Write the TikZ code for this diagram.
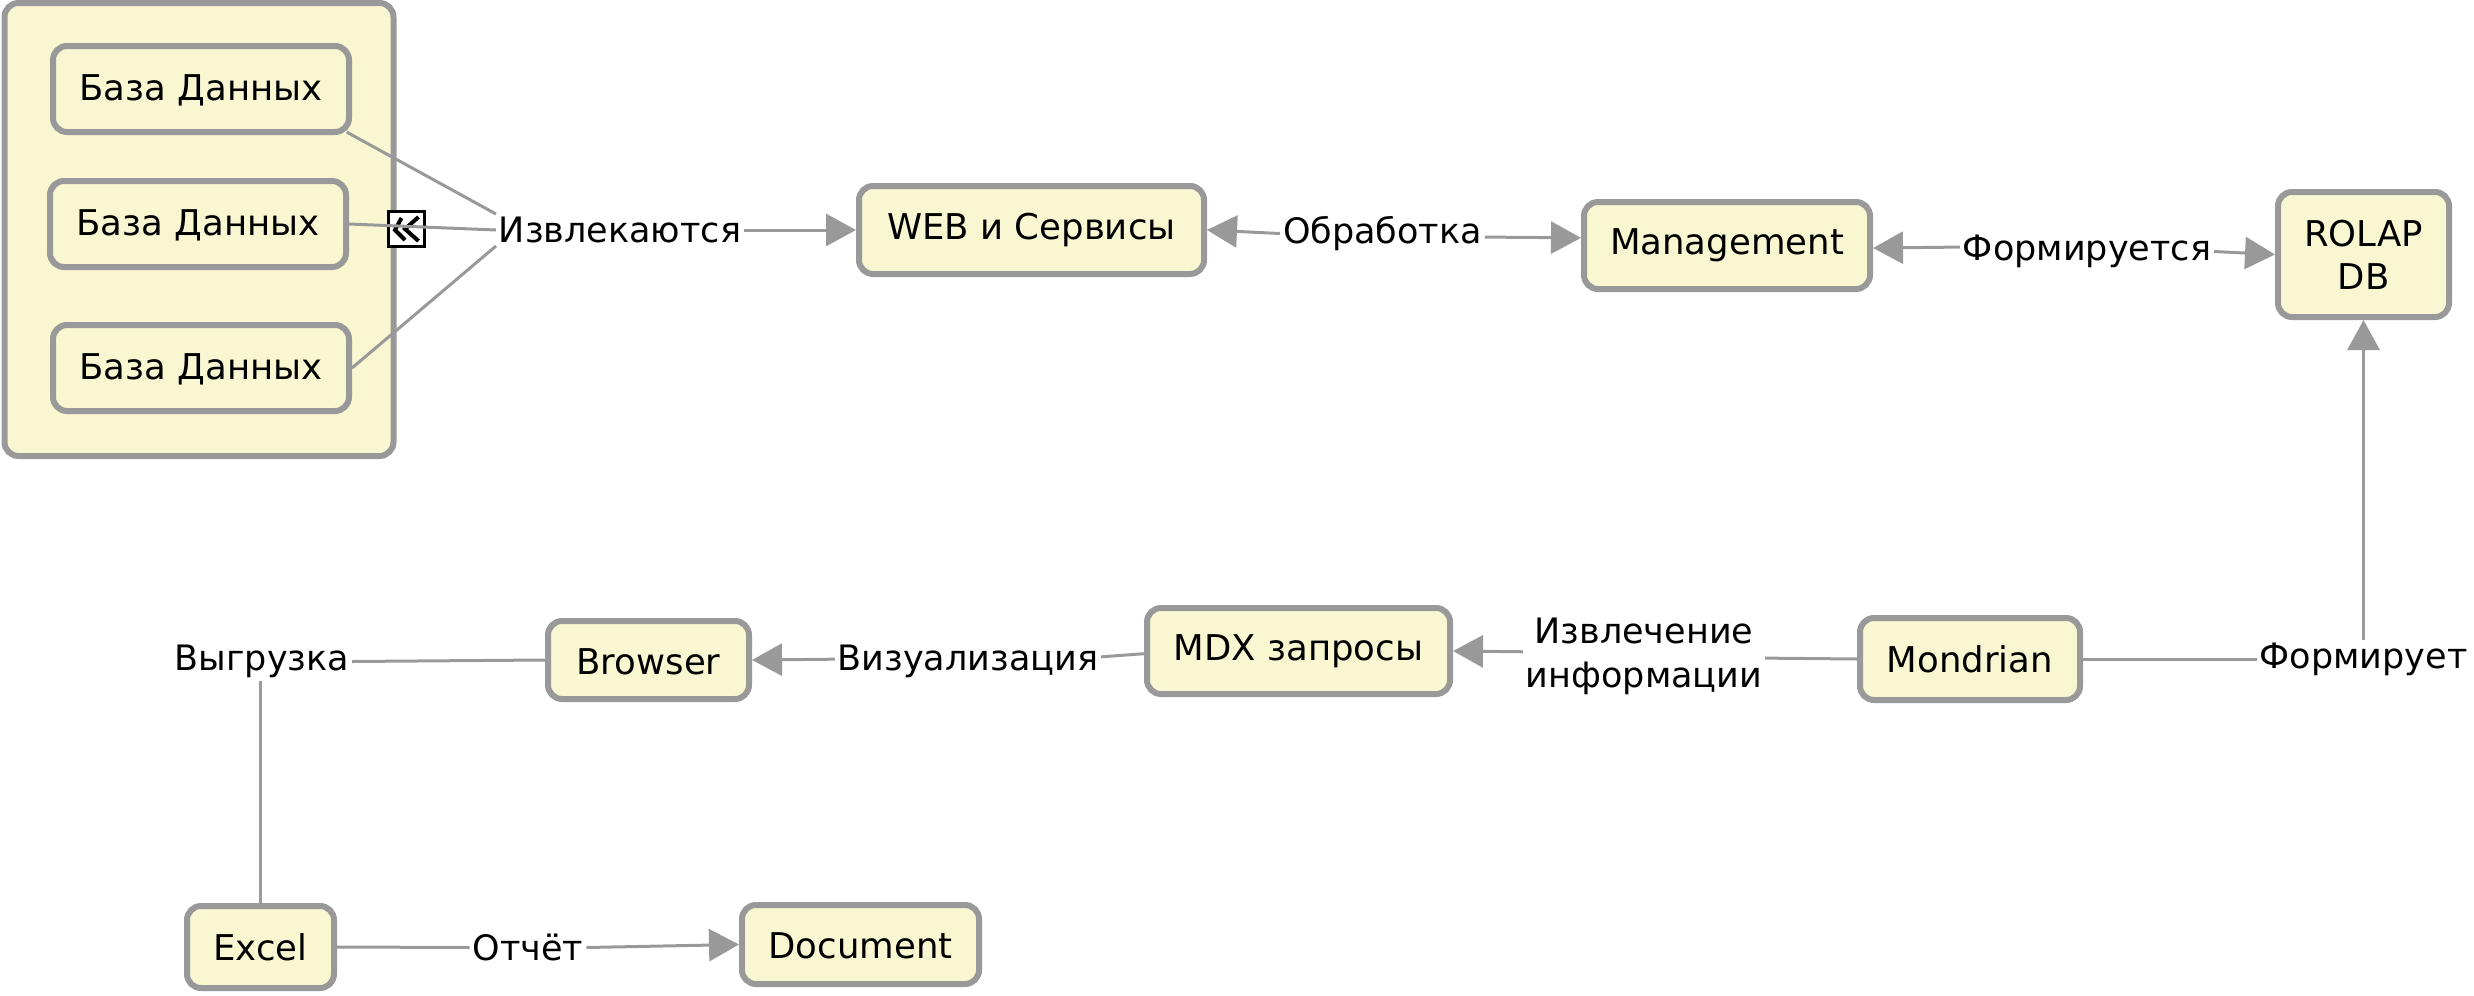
\documentclass[tikz,border=0pt]{standalone}
\usepackage{fontspec}
\setmainfont{DejaVu Sans}
\usetikzlibrary{arrows.meta}
\definecolor{boxfill}{HTML}{F9F7D1}
\definecolor{boxline}{HTML}{999999}
\tikzset{
  boxnode/.style={draw=boxline, fill=boxfill, line width=6pt, rounded corners=14pt,
    align=center, inner sep=0pt, font=\fontsize{35.5}{43}\selectfont},
  dbnode/.style={boxnode, minimum width=296pt, minimum height=86pt, text depth=3pt},
  verbnode/.style={align=center, inner sep=3pt, outer sep=0pt, font=\fontsize{35}{44}\selectfont},
  link/.style={draw=boxline, line width=3pt},
  linkto/.style={link, -{Triangle[length=30pt,width=32pt]}}
}
\begin{document}
\begin{tikzpicture}[x=1pt, y=-1pt]
  \useasboundingbox (0, 0) rectangle (2474, 996);
  % sources
  \node [boxnode, minimum width=389pt, minimum height=453pt] (dbgroup) at (199, 229.5) {};
  \node [dbnode] (dbtop) at (201, 89) {База Данных};
  \node [dbnode] (dbmid) at (198, 224) {База Данных};
  \node [dbnode] (dbbot) at (201, 368) {База Данных};
  \node [draw=black, fill=white, line width=3pt, minimum width=36pt, minimum height=35pt, inner sep=0pt] (collapse) at (406.5, 229) {};
  \draw [black, line width=4pt, shift={(collapse.center)}] (-5, -11) -- (-11.5, 1) -- (-1.5, 11);
  \draw [black, line width=4pt, shift={(collapse.center)}] (12, -12) -- (-1.5, 0) -- (12, 12);
  % top row
  \node [boxnode, minimum width=345pt, minimum height=88pt] (web) at (1031.5, 230) {WEB и Сервисы};
  \node [boxnode, minimum width=286pt, minimum height=87pt] (mgmt) at (1727, 245.5) {Management};
  \node [boxnode, minimum width=171pt, minimum height=125pt] (rolap) at (2363.5, 254.5) {ROLAP\\DB};
  \node [verbnode] (extract) at (620, 230) {Извлекаются};
  \node [verbnode] (process) at (1382.5, 233.5) {Обработка};
  \node [verbnode] (forming) at (2087, 251.5) {Формируется};
  % middle row
  \node [boxnode, minimum width=220pt, minimum height=82pt] (mondrian) at (1970, 659) {Mondrian};
  \node [boxnode, minimum width=303pt, minimum height=86pt] (mdx) at (1298.5, 651) {MDX запросы};
  \node [boxnode, minimum width=201pt, minimum height=78pt, text height=29pt] (browser) at (648.5, 660) {Browser};
  \node [verbnode] (forms) at (2363.5, 659) {Формирует};
  \node [verbnode] (fetch) at (1644, 656) {Извлечение\\информации};
  \node [verbnode] (visual) at (968, 661.5) {Визуализация};
  \node [verbnode] (unload) at (262, 661.5) {Выгрузка};
  % bottom row
  \node [boxnode, minimum width=147pt, minimum height=82pt] (excel) at (260.5, 947) {Excel};
  \node [boxnode, minimum width=237pt, minimum height=79pt, text height=29pt] (document) at (860.5, 944.5) {Document};
  \node [verbnode] (report) at (528, 947.5) {Отчёт};
  % connectors
  \draw [link, shorten <=-6pt] (dbtop.south east) -- (extract.north west);
  \draw [link] (dbmid.east) -- (extract.west);
  \draw [link] (dbbot.east) -- (extract.south west);
  \draw [linkto] (extract.east) -- (web.west);
  \draw [linkto] (process.west) -- (web.east);
  \draw [linkto] (process.-2) -- (mgmt.177.5);
  \draw [linkto] (forming.178.4) -- (mgmt.-1);
  \draw [linkto] (forming.east) -- (rolap.west);
  \draw [linkto] (forms.north) -- (rolap.south);
  \draw [link] (mondrian.east) -- (forms.west);
  \draw [link] (mondrian.west) -- (fetch.-1.4);
  \draw [linkto] (fetch.178.6) -- (mdx.-0.8);
  \draw [link] (mdx.181.9) -- (visual.2.3);
  \draw [linkto] (visual.179) -- (browser.east);
  \draw [link] (browser.west) -- (unload.east);
  \draw [link] (excel.north) -- (excel.north |- unload.south);
  \draw [link] (excel.east) -- (report.west);
  \draw [linkto] (report.east) -- (document.west);
\end{tikzpicture}
\end{document}
